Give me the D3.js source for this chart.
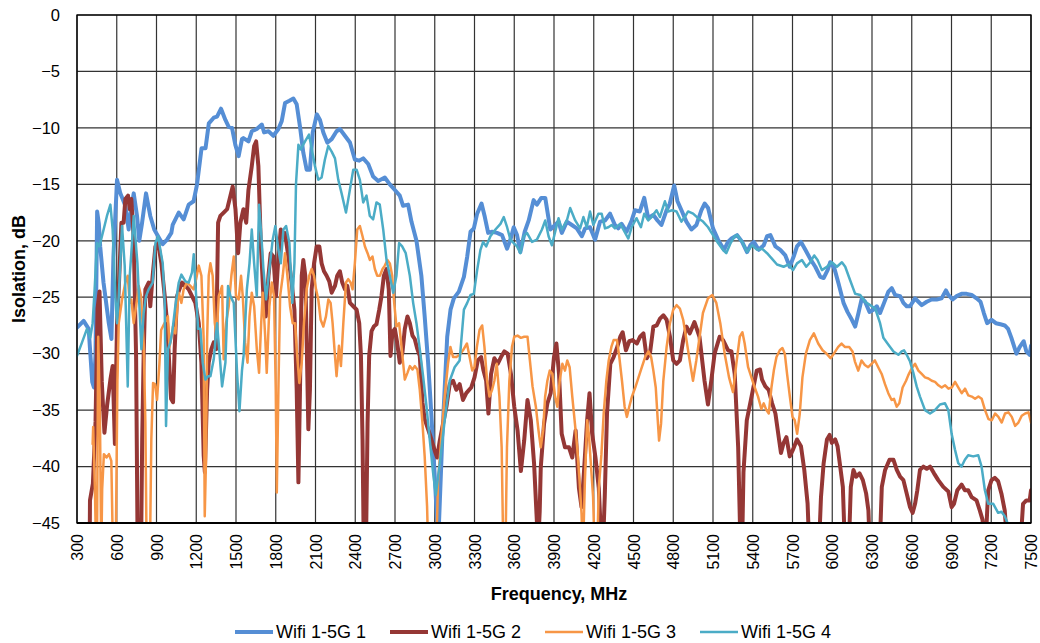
<!DOCTYPE html>
<html>
<head>
<meta charset="utf-8">
<script src="https://cdn.jsdelivr.net/npm/d3@7"></script>
<style>
  body { margin: 0; background: #fff; }
  svg { font-family: "Liberation Sans", Arial, sans-serif; }
</style>
</head>
<body>
<script>
// frequency (MHz), isolation (dB); values below -45 run off the plot
var wifi1 = [[300,-27.7],[350,-27.1],[388,-27.8],[415,-32.5],[428,-33],[440,-30],[452,-17.4],[465,-18.5],[475,-20.5],[500,-23.7],[540,-27.3],[560,-28.7],[575,-21.4],[602,-14.6],[627,-15.8],[665,-16.9],[690,-19],[705,-17.5],[728,-15.8],[753,-17.8],[770,-20],[790,-18.5],[821,-15.8],[853,-17.8],[883,-19],[917,-19.7],[947,-20.3],[980,-19.9],[1012,-19.3],[1022,-18.6],[1068,-17.5],[1105,-18.1],[1143,-16.8],[1180,-16.5],[1206,-15],[1240,-11.8],[1270,-11.8],[1295,-9.6],[1332,-9.1],[1357,-9],[1387,-8.3],[1420,-9.3],[1445,-9.9],[1470,-10],[1495,-11.5],[1520,-12.5],[1545,-11],[1556,-10.9],[1594,-11.2],[1619,-10.3],[1657,-10.1],[1695,-9.7],[1712,-10.4],[1745,-10.3],[1782,-10.7],[1820,-10.1],[1845,-9.4],[1870,-7.8],[1903,-7.6],[1933,-7.4],[1958,-7.9],[1983,-9.9],[2008,-12.2],[2033,-13.7],[2058,-13.7],[2079,-10.4],[2110,-8.8],[2134,-9.3],[2159,-10.4],[2189,-11.3],[2222,-11],[2259,-10.3],[2284,-10.1],[2322,-10.7],[2360,-11.3],[2397,-12.8],[2430,-12.9],[2460,-12.7],[2498,-13.2],[2535,-14.3],[2573,-14.7],[2623,-14.4],[2661,-15],[2699,-15.5],[2736,-16],[2761,-16.9],[2799,-16.8],[2824,-18.3],[2862,-20],[2899,-23.1],[2924,-26.7],[2950,-30.8],[2975,-35.5],[3000,-40.9],[3017,-44.7],[3025,-48],[3032,-45],[3057,-37.4],[3094,-28.5],[3119,-26.1],[3144,-25.1],[3182,-24.5],[3220,-23.2],[3245,-21.4],[3270,-19.2],[3295,-18.9],[3320,-17.6],[3353,-16.7],[3378,-17.9],[3403,-19.3],[3433,-19.2],[3470,-19.3],[3508,-19.5],[3546,-20.7],[3571,-19.9],[3596,-18.8],[3621,-19.5],[3646,-21],[3679,-19.2],[3709,-18.2],[3746,-16.4],[3771,-16.8],[3804,-16.2],[3834,-16.2],[3872,-19],[3909,-18.6],[3934,-18.3],[3959,-19.3],[3997,-18.3],[4035,-18.6],[4072,-18.9],[4110,-19.6],[4135,-18.9],[4172,-18.8],[4210,-19.9],[4248,-18.3],[4285,-18.2],[4323,-17.6],[4360,-18.6],[4385,-18.9],[4410,-18.5],[4448,-19.2],[4486,-18.2],[4511,-17.3],[4548,-17.4],[4581,-16.2],[4611,-18],[4649,-17.7],[4681,-18.2],[4711,-18.6],[4749,-17.3],[4774,-16.7],[4807,-15.1],[4832,-16.5],[4862,-17.3],[4899,-18.3],[4937,-19],[4975,-18.6],[5012,-17.3],[5037,-16.7],[5063,-17.1],[5100,-18.9],[5138,-19.9],[5183,-20.8],[5213,-20.1],[5240,-19.8],[5282,-19.5],[5320,-20.1],[5357,-21],[5382,-20.4],[5408,-20.1],[5445,-20.8],[5483,-20.4],[5508,-19.6],[5533,-19.5],[5571,-20.5],[5608,-20.8],[5646,-21.3],[5679,-22.3],[5709,-21.4],[5734,-20.5],[5764,-20.1],[5797,-20.8],[5834,-21.6],[5872,-22.3],[5910,-23.2],[5935,-23.3],[5965,-22.6],[5985,-21.9],[6015,-22.4],[6048,-23.8],[6085,-25.5],[6115,-26.3],[6148,-27],[6173,-27.6],[6198,-26.4],[6223,-25.1],[6248,-25.4],[6281,-26.3],[6311,-26.1],[6336,-25.8],[6361,-26.4],[6391,-25.5],[6424,-24.5],[6449,-24.2],[6474,-24.8],[6512,-24.9],[6537,-25.5],[6562,-25.8],[6587,-25.8],[6625,-25.1],[6650,-25.4],[6675,-25.7],[6713,-25.4],[6750,-25.2],[6788,-25.2],[6825,-25.1],[6858,-24.4],[6876,-24.8],[6908,-25.2],[6939,-24.9],[6976,-24.7],[7014,-24.7],[7052,-24.8],[7089,-25.1],[7119,-25.4],[7144,-26.4],[7169,-27.3],[7202,-27],[7235,-27.3],[7270,-27.4],[7302,-27.5],[7327,-27.8],[7352,-28.6],[7390,-30],[7415,-29.4],[7445,-28.9],[7465,-29.8],[7490,-30.1],[7500,-29.3]];

var wifi2 = [[395,-48],[398,-43],[420,-41.5],[440,-36],[455,-26],[470,-24.5],[487,-32.5],[507,-37],[527,-34.6],[552,-32.3],[569,-31.1],[586,-38],[602,-27.3],[615,-24.3],[635,-18.4],[652,-18.4],[665,-16.3],[685,-16],[698,-17.2],[710,-16.3],[728,-19.9],[746,-30.2],[758,-48],[783,-48],[792,-37.6],[803,-30.2],[816,-24.3],[841,-23.7],[853,-25.8],[871,-23.1],[892,-20.5],[912,-20.2],[937,-22],[962,-24.9],[980,-27.3],[997,-31.1],[1010,-34],[1025,-34.3],[1037,-29.6],[1055,-24.9],[1073,-24.3],[1093,-23.7],[1118,-24],[1143,-24.3],[1168,-24.9],[1193,-25.5],[1219,-27.3],[1239,-30.8],[1256,-39],[1265,-40.5],[1282,-33.2],[1294,-30.8],[1314,-29.6],[1332,-29],[1350,-29.6],[1365,-18.4],[1382,-17.8],[1407,-17.5],[1433,-17.2],[1458,-16],[1475,-15.2],[1496,-17.2],[1516,-21.1],[1533,-18.4],[1556,-17.2],[1577,-18.4],[1594,-15.5],[1619,-13.4],[1637,-11.6],[1652,-11.2],[1669,-13.4],[1687,-20.2],[1707,-24.9],[1725,-26.7],[1745,-23.1],[1762,-21.1],[1782,-21.4],[1802,-24.9],[1820,-21.4],[1838,-19],[1853,-19.3],[1870,-19.3],[1895,-21.4],[1920,-23.7],[1941,-26.1],[1958,-33.2],[1971,-41.4],[1983,-33.2],[1996,-23.1],[2008,-21.7],[2023,-23.1],[2033,-28.7],[2046,-36.7],[2058,-33.2],[2071,-24.3],[2089,-22],[2109,-20.5],[2129,-20.5],[2146,-22],[2164,-22.7],[2184,-23.1],[2204,-23.6],[2222,-24.6],[2247,-24],[2264,-23.1],[2284,-22.7],[2302,-23.7],[2322,-24.3],[2340,-24],[2360,-25.5],[2385,-25.8],[2410,-26.1],[2430,-27.3],[2443,-30.2],[2455,-37.6],[2465,-48],[2480,-48],[2493,-36.1],[2505,-30.2],[2523,-28],[2540,-27.6],[2560,-27.4],[2581,-26.1],[2598,-24.9],[2616,-23.1],[2636,-22.5],[2653,-24.3],[2666,-30.2],[2681,-28.1],[2699,-27.8],[2716,-29],[2736,-30.8],[2756,-29.9],[2774,-27.8],[2794,-26.7],[2812,-27.3],[2832,-28.4],[2849,-28.7],[2869,-29.6],[2887,-30.2],[2907,-34.3],[2924,-35.8],[2950,-36.7],[2975,-37.6],[3000,-38.6],[3018,-39.2],[3038,-37.7],[3063,-36.2],[3088,-34.7],[3113,-32.7],[3138,-32.4],[3163,-33.2],[3188,-32.7],[3213,-34.1],[3238,-33.5],[3275,-33],[3300,-32.1],[3325,-30.6],[3350,-30.3],[3368,-31.5],[3388,-32.4],[3405,-35.3],[3425,-31.8],[3450,-30.4],[3475,-30.9],[3500,-30.3],[3525,-29.8],[3550,-30],[3575,-31.8],[3600,-34.7],[3625,-36.8],[3650,-40.4],[3675,-37.7],[3700,-34.1],[3725,-35.9],[3750,-39.8],[3768,-44.2],[3780,-47],[3792,-44],[3800,-40.1],[3825,-36.2],[3850,-34.4],[3875,-33.5],[3900,-30.3],[3918,-29.1],[3938,-31.8],[3958,-37.1],[3983,-38.3],[4013,-38.3],[4038,-39.2],[4063,-36.8],[4088,-41.9],[4108,-43.6],[4125,-40.7],[4150,-35.9],[4168,-33.5],[4188,-37.1],[4213,-39.2],[4238,-41.9],[4258,-47],[4270,-47],[4283,-42.7],[4300,-35.3],[4325,-30.9],[4350,-30.3],[4375,-29.5],[4400,-28.5],[4418,-28.1],[4443,-29.7],[4468,-28.9],[4493,-28.8],[4525,-29.1],[4550,-28.5],[4575,-28.2],[4600,-30.4],[4625,-29.9],[4650,-27.6],[4675,-27.5],[4700,-26.9],[4725,-26.6],[4750,-27],[4775,-28.5],[4800,-30.6],[4825,-30.9],[4850,-30.6],[4875,-28.8],[4900,-27.6],[4925,-28.2],[4960,-27.2],[4998,-28.5],[5036,-32.4],[5062,-34.5],[5087,-32.4],[5112,-30],[5150,-28.5],[5176,-28.8],[5214,-29.7],[5239,-29.8],[5264,-31.8],[5290,-38.3],[5307,-47],[5320,-47],[5330,-40.5],[5355,-35.9],[5391,-33.8],[5430,-31.5],[5455,-31.4],[5470,-32.3],[5495,-32.9],[5520,-33.2],[5546,-34.4],[5571,-35.3],[5596,-37.4],[5613,-38.8],[5633,-37.9],[5654,-37.4],[5679,-39.1],[5704,-38.5],[5734,-37.6],[5764,-38.2],[5789,-40.3],[5814,-43.3],[5829,-48],[5897,-48],[5915,-42.7],[5935,-39.7],[5960,-37.6],[5980,-37.2],[5997,-37.9],[6022,-37.6],[6040,-38.2],[6060,-40],[6080,-41.8],[6098,-48],[6123,-48],[6140,-41.8],[6160,-40.3],[6180,-40.9],[6206,-40.6],[6231,-41.2],[6256,-42.4],[6273,-43.9],[6286,-48],[6356,-48],[6374,-41.8],[6399,-40.3],[6432,-39.4],[6462,-39.4],[6487,-40.3],[6512,-40.9],[6537,-41.2],[6562,-42.4],[6587,-43.6],[6607,-44.1],[6625,-43.3],[6642,-42.1],[6662,-40.3],[6688,-40],[6713,-40.2],[6738,-40],[6768,-40.6],[6800,-41.2],[6838,-41.8],[6876,-42.2],[6901,-43.6],[6919,-43.3],[6944,-42.1],[6976,-41.6],[7001,-42.1],[7026,-42.1],[7052,-42.7],[7089,-43],[7114,-43.9],[7134,-44.7],[7152,-47],[7165,-45],[7177,-42.1],[7202,-41.2],[7227,-41],[7252,-41.3],[7277,-42.4],[7302,-43.9],[7327,-48],[7415,-48],[7440,-43.3],[7465,-43],[7490,-43],[7500,-42.1]];

var wifi3 = [[418,-38],[422,-36.5],[435,-41.9],[445,-48],[452,-45],[460,-28.5],[473,-35.3],[483,-48],[490,-42],[503,-38.9],[523,-39.2],[541,-38.9],[559,-39.5],[572,-48],[592,-48],[605,-32.4],[615,-27.3],[640,-25.2],[665,-23.7],[683,-23.1],[698,-25.5],[710,-25.2],[728,-27.3],[746,-25.8],[766,-24],[783,-24.9],[803,-29],[816,-36.1],[826,-48],[850,-48],[861,-37.6],[874,-32.6],[889,-32.7],[904,-34.1],[922,-30.9],[935,-27.9],[960,-27.3],[986,-26.7],[998,-29.4],[1012,-28.6],[1024,-27.6],[1042,-28.2],[1062,-25.2],[1068,-24.6],[1088,-25.5],[1105,-24.3],[1130,-23.7],[1156,-24],[1181,-24.3],[1199,-23.4],[1219,-22.2],[1239,-23.1],[1256,-28.7],[1264,-44.4],[1274,-39.1],[1282,-28.7],[1294,-23.1],[1307,-22],[1324,-23.1],[1340,-27.3],[1353,-28.4],[1370,-24.9],[1395,-24],[1407,-30.5],[1425,-27.3],[1445,-25.8],[1465,-23.1],[1483,-21.4],[1500,-24.9],[1520,-25.2],[1538,-23.1],[1551,-24.9],[1569,-29],[1587,-30.8],[1602,-26.7],[1619,-24.6],[1637,-25.8],[1657,-29.6],[1674,-31.7],[1690,-27.3],[1702,-24.6],[1720,-28.4],[1732,-31.7],[1752,-25.8],[1770,-23.7],[1787,-24.9],[1800,-33.2],[1808,-42.3],[1820,-33.2],[1833,-24.9],[1853,-23.1],[1870,-21.1],[1888,-23.1],[1908,-25.8],[1928,-27.3],[1946,-27.3],[1958,-29.6],[1978,-32.6],[1996,-30.8],[2013,-27.3],[2033,-24.3],[2053,-23.1],[2071,-22.5],[2089,-23.1],[2104,-24.3],[2121,-25.2],[2139,-27],[2159,-27.6],[2179,-26.7],[2197,-25.2],[2214,-25.5],[2229,-27.3],[2247,-30.2],[2259,-32],[2277,-29.3],[2292,-31.1],[2310,-27.3],[2330,-23.7],[2347,-23.4],[2365,-23.7],[2380,-24.3],[2397,-22],[2415,-19],[2435,-18.7],[2455,-19.6],[2473,-20.5],[2493,-21.1],[2510,-21.7],[2530,-21.4],[2548,-22.5],[2566,-23.1],[2586,-23.1],[2606,-22.5],[2623,-22.2],[2643,-21.7],[2661,-22],[2679,-23.1],[2694,-25.5],[2711,-27.6],[2731,-27.3],[2756,-30.2],[2774,-32.3],[2794,-31.7],[2812,-31.1],[2832,-31.4],[2849,-31.1],[2869,-31.4],[2887,-33.2],[2907,-36.1],[2924,-39.1],[2942,-43.5],[2952,-48],[3010,-48],[3025,-41.3],[3050,-37.4],[3075,-33.8],[3100,-30.9],[3118,-29.4],[3138,-30.3],[3163,-30.3],[3188,-30.1],[3213,-29.7],[3243,-29.1],[3263,-30.3],[3283,-31.5],[3300,-31.2],[3318,-29.4],[3338,-27.9],[3358,-27.5],[3375,-29.4],[3395,-32.4],[3413,-33.8],[3433,-33.2],[3450,-32.4],[3468,-30.9],[3488,-33.8],[3505,-38.3],[3518,-48],[3533,-48],[3545,-38.3],[3563,-32.4],[3583,-29.4],[3600,-28.5],[3625,-28.4],[3650,-28.6],[3675,-28.5],[3700,-28.5],[3718,-30.6],[3738,-32.9],[3763,-34.7],[3783,-36.8],[3800,-38.3],[3818,-36.8],[3833,-33.8],[3850,-32.4],[3868,-31.5],[3888,-31.8],[3908,-33.8],[3925,-34.7],[3943,-32.4],[3963,-30.9],[3983,-31.5],[4000,-30.6],[4018,-31.2],[4038,-33.8],[4058,-36.2],[4075,-38.3],[4093,-41.3],[4108,-44.2],[4118,-48],[4133,-41.3],[4150,-35.9],[4163,-37.1],[4180,-40.1],[4195,-42.7],[4208,-48],[4225,-48],[4238,-41.9],[4258,-38.9],[4275,-35.3],[4295,-32.4],[4313,-30.6],[4333,-29.4],[4350,-28.8],[4375,-28.8],[4393,-30.3],[4413,-32.4],[4433,-34.7],[4450,-35.6],[4468,-34.7],[4488,-33.8],[4513,-33],[4538,-32.1],[4563,-31.2],[4588,-30.3],[4613,-29.8],[4633,-30.3],[4650,-31.5],[4668,-33],[4683,-35.9],[4693,-37.7],[4708,-36.2],[4725,-32.4],[4750,-29.4],[4775,-27.3],[4800,-26.1],[4825,-25.7],[4850,-26],[4875,-27],[4900,-28.8],[4924,-30.6],[4949,-32.4],[4974,-30.6],[4999,-28.5],[5024,-26.4],[5062,-25.1],[5095,-24.8],[5125,-25.5],[5155,-27.3],[5188,-30],[5221,-32.1],[5251,-33.4],[5276,-30.9],[5302,-28.5],[5322,-28.1],[5339,-29.1],[5365,-31.2],[5390,-32.1],[5415,-33],[5440,-33.8],[5465,-34.9],[5483,-34.4],[5503,-35],[5521,-35.3],[5541,-33],[5559,-31.5],[5579,-30.3],[5604,-29.7],[5624,-29.5],[5642,-30],[5659,-31.8],[5680,-33.8],[5700,-35.6],[5717,-35.9],[5735,-37.1],[5755,-35.3],[5775,-32.1],[5801,-30],[5831,-28.8],[5861,-28.2],[5894,-29.1],[5927,-29.7],[5957,-30],[5987,-30.4],[6012,-30],[6045,-29.4],[6070,-29.1],[6095,-29.4],[6128,-29.4],[6153,-29.8],[6171,-30.7],[6196,-31.5],[6221,-30.6],[6246,-31],[6271,-31.2],[6297,-30.9],[6322,-30.6],[6347,-31.2],[6373,-31.8],[6398,-32.7],[6423,-33.5],[6448,-34.1],[6466,-34],[6486,-34.7],[6506,-34.4],[6531,-33],[6557,-32.4],[6574,-31.9],[6600,-31.3],[6625,-30.9],[6650,-31.5],[6675,-31.8],[6700,-32.1],[6726,-32.2],[6751,-32.4],[6776,-32.5],[6801,-32.8],[6826,-33],[6852,-32.8],[6877,-33.1],[6902,-33],[6927,-32.5],[6952,-33],[6977,-33.5],[7002,-33.1],[7027,-33.7],[7053,-33.8],[7078,-34],[7103,-33.8],[7128,-34],[7153,-35],[7179,-35.8],[7204,-35.9],[7229,-35.3],[7254,-35.6],[7279,-36.1],[7304,-35.3],[7330,-35.2],[7355,-35.6],[7380,-36.4],[7405,-36.1],[7430,-35.5],[7456,-35.3],[7481,-35.2],[7500,-36.1]];

var wifi4 = [[300,-30.2],[338,-29],[375,-27.8],[400,-28.6],[418,-27.3],[433,-24.3],[451,-20.2],[469,-20.5],[501,-19],[526,-17.8],[552,-16.8],[569,-19],[589,-24.9],[602,-27.3],[615,-24.9],[640,-18.7],[660,-22.2],[683,-32.9],[698,-23.1],[710,-21.1],[728,-17.8],[740,-19.6],[756,-22],[771,-25.8],[786,-29.6],[803,-26.4],[821,-24.9],[841,-24.3],[871,-23.7],[892,-20.2],[912,-19.6],[929,-20.8],[947,-22],[962,-25.5],[972,-36.4],[987,-29.6],[1005,-29],[1022,-27.8],[1042,-25.8],[1068,-23.7],[1088,-23],[1118,-23.6],[1143,-23.7],[1168,-22.8],[1181,-21.2],[1193,-23.7],[1214,-27.8],[1231,-27.8],[1249,-30.8],[1269,-32.3],[1289,-32],[1307,-32],[1332,-30.5],[1357,-27.3],[1375,-29.9],[1395,-32.9],[1420,-30.8],[1440,-24],[1458,-24.9],[1483,-25.5],[1508,-31.7],[1526,-35.1],[1545,-31.5],[1557,-30.2],[1582,-24.3],[1602,-22],[1619,-19],[1637,-22],[1657,-24.9],[1674,-16.8],[1690,-19.3],[1707,-22.5],[1727,-25.2],[1752,-22.5],[1777,-19.9],[1797,-18.7],[1820,-20.8],[1838,-22],[1858,-19],[1878,-18.7],[1903,-20.2],[1925,-25.5],[1941,-22],[1953,-14.9],[1971,-11.5],[1988,-11.9],[2021,-11.2],[2051,-10.6],[2071,-11.8],[2096,-13.4],[2121,-14.6],[2146,-14.4],[2171,-12.8],[2196,-11.6],[2222,-12.1],[2247,-12.7],[2272,-14.6],[2297,-15.8],[2330,-17.5],[2355,-15.8],[2385,-13.7],[2410,-13.7],[2435,-14.6],[2460,-16.6],[2485,-16],[2510,-17.8],[2535,-18.1],[2560,-16.6],[2585,-16.8],[2611,-19],[2636,-21.7],[2661,-23.1],[2686,-24.6],[2711,-23.1],[2731,-20.2],[2754,-20.5],[2781,-21.1],[2812,-23.1],[2837,-25.5],[2862,-27.3],[2887,-29.6],[2912,-32],[2937,-34.6],[2962,-37.6],[2987,-40.5],[3008,-42.5],[3038,-39.7],[3075,-35.9],[3113,-32.4],[3150,-31.2],[3188,-30.6],[3220,-26.1],[3245,-25.5],[3270,-24.8],[3295,-24.7],[3320,-22.6],[3345,-20.8],[3365,-20.1],[3388,-20.5],[3420,-19.6],[3458,-19],[3496,-18.5],[3521,-17.9],[3546,-18.8],[3571,-19.9],[3596,-20.2],[3621,-20.5],[3646,-21.1],[3671,-19.6],[3696,-19.3],[3734,-20.1],[3771,-19.9],[3809,-19],[3834,-18.2],[3859,-19.6],[3884,-20.4],[3909,-19.2],[3934,-18],[3959,-19],[3997,-18.2],[4022,-17.1],[4060,-18.2],[4097,-18.9],[4122,-17.9],[4147,-18.8],[4172,-17.4],[4197,-18.6],[4235,-17.6],[4260,-17.6],[4285,-18.9],[4310,-18.8],[4335,-18.6],[4360,-18.9],[4398,-18.5],[4423,-19],[4461,-19.8],[4486,-18.8],[4523,-18],[4556,-18.8],[4581,-17.6],[4611,-18.2],[4636,-17.9],[4674,-17.3],[4699,-17.9],[4737,-16.5],[4762,-17.4],[4792,-17.3],[4825,-17.4],[4862,-18.3],[4887,-17.9],[4912,-17.4],[4950,-17.6],[4987,-18],[5025,-18.3],[5063,-18.8],[5100,-19.5],[5138,-20.2],[5175,-20.8],[5200,-21.1],[5233,-20.2],[5263,-19.6],[5282,-19.5],[5320,-20.1],[5357,-21],[5395,-20.4],[5433,-20.8],[5470,-20.7],[5508,-21.1],[5546,-21.6],[5583,-22.1],[5633,-22.3],[5671,-22.1],[5704,-22.6],[5734,-22],[5771,-21.7],[5804,-22.3],[5834,-21.9],[5864,-21.3],[5889,-21.7],[5922,-22.6],[5960,-22.3],[5997,-21.9],[6035,-22.3],[6073,-21.9],[6098,-22.3],[6135,-23.5],[6173,-24.7],[6211,-24.8],[6248,-25.4],[6286,-25.7],[6324,-26],[6361,-27.3],[6386,-28.6],[6424,-29.2],[6462,-29.8],[6499,-30.1],[6524,-29.8],[6542,-29.7],[6562,-30.1],[6587,-30.7],[6612,-31.7],[6637,-32.9],[6662,-33.8],[6700,-35],[6738,-35.3],[6775,-35],[6813,-34.5],[6851,-34.4],[6876,-35],[6901,-37.1],[6926,-38.5],[6951,-39.7],[6976,-40],[7001,-39.4],[7026,-39],[7064,-39.1],[7102,-39],[7127,-40],[7152,-42.1],[7177,-43.3],[7215,-43.3],[7252,-44.1],[7277,-44],[7302,-44.4],[7340,-45.5],[7380,-47],[7500,-48]];

var seriesNames = ['Wifi 1-5G 1', 'Wifi 1-5G 2', 'Wifi 1-5G 3', 'Wifi 1-5G 4'];
var xTicks = [300,600,900,1200,1500,1800,2100,2400,2700,3000,3300,3600,3900,4200,4500,4800,5100,5400,5700,6000,6300,6600,6900,7200,7500];
var yTicks = [0,-5,-10,-15,-20,-25,-30,-35,-40,-45];

var colors = ['#558ED5', '#953735', '#F79646', '#4BACC6'];
var widths = [4, 4, 2.5, 2.5];

var w = 1040;
var h = 643;
var margin = { top: 15, right: 9, bottom: 120, left: 77 };
var pw = w - margin.left - margin.right;
var ph = h - margin.top - margin.bottom;

var svg = d3
  .select('body')
  .append('svg')
  .attr('width', w)
  .attr('height', h);

var xScale = d3.scaleLinear().domain([300, 7500]).range([margin.left, margin.left + pw]);
var yScale = d3.scaleLinear().domain([-45, 0]).range([margin.top + ph, margin.top]);

svg
  .append('clipPath')
  .attr('id', 'plot-area')
  .append('rect')
  .attr('x', margin.left)
  .attr('y', margin.top)
  .attr('width', pw)
  .attr('height', ph);

// grid
var grid = svg.append('g').attr('class', 'grid');
grid
  .selectAll('line.v')
  .data(xTicks)
  .enter()
  .append('line')
  .attr('class', 'v')
  .attr('x1', d => xScale(d))
  .attr('x2', d => xScale(d))
  .attr('y1', margin.top)
  .attr('y2', margin.top + ph)
  .attr('stroke', '#333')
  .attr('stroke-width', 1.2);
grid
  .selectAll('line.h')
  .data(yTicks)
  .enter()
  .append('line')
  .attr('class', 'h')
  .attr('x1', margin.left)
  .attr('x2', margin.left + pw)
  .attr('y1', d => yScale(d))
  .attr('y2', d => yScale(d))
  .attr('stroke', '#333')
  .attr('stroke-width', 1.2);

// series
var allSeries = [wifi1, wifi2, wifi3, wifi4];
var line = d3
  .line()
  .x(d => xScale(d[0]))
  .y(d => yScale(d[1]));

svg
  .append('g')
  .attr('clip-path', 'url(#plot-area)')
  .selectAll('path')
  .data(allSeries)
  .enter()
  .append('path')
  .attr('d', line)
  .attr('fill', 'none')
  .attr('stroke', (d, i) => colors[i])
  .attr('stroke-width', (d, i) => widths[i])
  .attr('stroke-linejoin', 'round')
  .attr('stroke-linecap', 'round');

// frame
svg
  .append('rect')
  .attr('x', margin.left)
  .attr('y', margin.top)
  .attr('width', pw)
  .attr('height', ph)
  .attr('fill', 'none')
  .attr('stroke', '#000')
  .attr('stroke-width', 1.3);
svg
  .append('line')
  .attr('x1', margin.left)
  .attr('x2', margin.left + pw)
  .attr('y1', margin.top + ph)
  .attr('y2', margin.top + ph)
  .attr('stroke', '#000')
  .attr('stroke-width', 2);

// axes
var xAxis = d3.axisBottom(xScale).tickValues(xTicks).tickSize(0).tickFormat(d3.format('d'));
var gx = svg
  .append('g')
  .attr('transform', `translate(0, ${margin.top + ph})`)
  .call(xAxis);
gx.select('.domain').remove();
gx.selectAll('text')
  .attr('font-size', 16)
  .attr('fill', '#000')
  .attr('text-anchor', 'end')
  .attr('transform', 'translate(0, 11) rotate(-90)')
  .attr('x', 0)
  .attr('y', 0)
  .attr('dy', '0.35em');

var yAxis = d3.axisLeft(yScale).tickValues(yTicks).tickSize(0).tickPadding(17);
var gy = svg
  .append('g')
  .attr('transform', `translate(${margin.left}, 0)`)
  .call(yAxis);
gy.select('.domain').remove();
gy.selectAll('text').attr('font-size', 16.5).attr('fill', '#000');

svg
  .append('text')
  .attr('x', 559)
  .attr('y', 600)
  .attr('text-anchor', 'middle')
  .attr('font-size', 18)
  .attr('font-weight', 'bold')
  .text('Frequency, MHz');

svg
  .append('text')
  .attr('transform', `translate(25, ${margin.top + ph / 2}) rotate(-90)`)
  .attr('text-anchor', 'middle')
  .attr('font-size', 18)
  .attr('font-weight', 'bold')
  .text('Isolation, dB');

// legend
var legend = svg
  .append('g')
  .selectAll('g')
  .data(seriesNames)
  .enter()
  .append('g')
  .attr('transform', (d, i) => `translate(${235 + i * 155}, 632)`);
legend
  .append('line')
  .attr('x1', 0)
  .attr('x2', 38)
  .attr('stroke', (d, i) => colors[i])
  .attr('stroke-width', (d, i) => widths[i]);
legend
  .append('text')
  .attr('x', 41)
  .attr('dy', '0.35em')
  .attr('font-size', 18)
  .text(d => d);
</script>
</body>
</html>
